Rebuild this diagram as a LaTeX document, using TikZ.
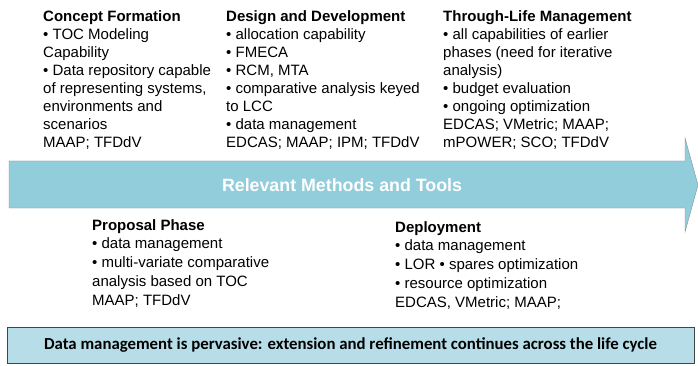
\documentclass[tikz,border=0pt]{standalone}
\usepackage{fontspec}
\setmainfont{Liberation Sans}
\newfontfamily\calibfont{Carlito}
\usetikzlibrary{positioning}
\definecolor{aqua}{RGB}{146,205,220}
\definecolor{paleaqua}{RGB}{183,222,232}
\definecolor{rim}{RGB}{60,70,75}
\begin{document}
\begin{tikzpicture}[x=1pt, y=-1pt,
					phase/.style = {anchor=north west, align=left, inner sep=0pt,
						font=\fontsize{15}{18}\selectfont},
					lowphase/.style = {phase, font=\fontsize{15}{18.8}\selectfont},
					band/.style = {text=white, font=\fontsize{17.8}{20}\selectfont\bfseries},
					note/.style = {draw=rim, line width=1pt, fill=paleaqua, inner sep=0pt,
						minimum width=687pt, minimum height=36pt,
						font=\calibfont\fontsize{16.8}{19}\selectfont\bfseries}]
	\useasboundingbox (0,0) rectangle (698,366);
	% the big arrow
	\fill[aqua, draw=rim!60, line width=0.4pt] (9,161) -- (685,161) -- (685,138) -- (698,185)
		-- (685,232) -- (685,208) -- (9,208) -- cycle;
	\node[band] (tools) at (342,185) {Relevant Methods and Tools};
	% phases above the arrow
	\node[phase] (concept) at (43,10) {\textbf{Concept Formation}\\
		• TOC Modeling\\ Capability\\
		• Data repository capable\\ of representing systems,\\ environments and\\ scenarios\\
		MAAP; TFDdV};
	\node[phase] (design) at (226,10) {\textbf{Design and Development}\\
		• allocation capability\\ • FMECA\\ • RCM, MTA\\
		• comparative analysis keyed\\ to LCC\\ • data management\\
		EDCAS; MAAP; IPM; TFDdV};
	\node[phase] (through) at (443,10) {\textbf{Through-Life Management}\\
		• all capabilities of earlier\\ phases (need for iterative\\ analysis)\\
		• budget evaluation\\ • ongoing optimization\\
		EDCAS; VMetric; MAAP;\\ mPOWER; SCO; TFDdV};
	% phases below the arrow
	\node[lowphase] (proposal) at (92,219) {\textbf{Proposal Phase}\\
		• data management\\ • multi-variate comparative\\ analysis based on TOC\\
		MAAP; TFDdV};
	\node[lowphase] (deploy) at (395,221) {\textbf{Deployment}\\
		• data management\\ • LOR • spares optimization\\ • resource optimization\\
		EDCAS, VMetric; MAAP;};
	% summary box
	\node[note] (pervasive) at (350.5,345)
		{Data management is pervasive: extension and refinement continues across the life cycle};
\end{tikzpicture}
\end{document}
